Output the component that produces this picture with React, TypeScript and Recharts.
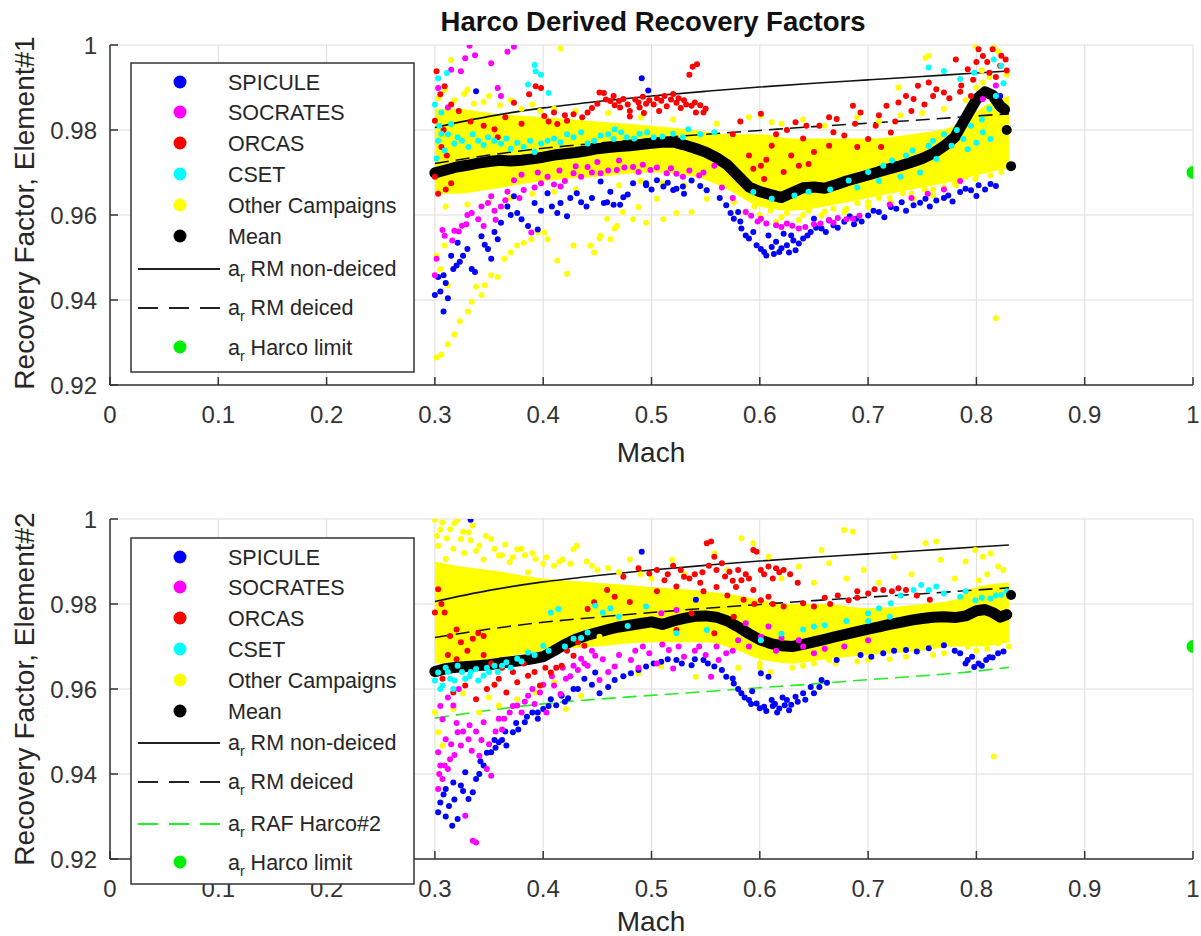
import { ComposedChart, Area, Scatter, Line, XAxis, YAxis, CartesianGrid } from 'recharts'

type Pt = [number, number]
type BandRow = [number, number, number]

const FONT = '"Liberation Sans", Arial, Helvetica, sans-serif'
const INK = '#262626'

const machTicks = [0, 0.1, 0.2, 0.3, 0.4, 0.5, 0.6, 0.7, 0.8, 0.9, 1]
const factorTicks = [0.92, 0.94, 0.96, 0.98, 1]

const campaignColors = {
  spicule: '#0000ff',
  socrates: '#ff00ff',
  orcas: '#ff0000',
  cset: '#00ffff',
  other: '#ffff00',
}

// reference curves, the same on both elements
const rmNonDeiced: Pt[] = [
  [0.3, 0.9806], [0.35, 0.9832], [0.4, 0.9852], [0.45, 0.9867], [0.5, 0.988], [0.55, 0.9891],
  [0.6, 0.9901], [0.65, 0.991], [0.7, 0.9918], [0.75, 0.9926], [0.8, 0.9934], [0.83, 0.9939],
]
const rmDeiced: Pt[] = [
  [0.3, 0.9721], [0.35, 0.9741], [0.4, 0.9757], [0.45, 0.9769], [0.5, 0.978], [0.55, 0.979],
  [0.6, 0.9799], [0.65, 0.9808], [0.7, 0.9816], [0.75, 0.9824], [0.8, 0.9833], [0.83, 0.9838],
]
const rafHarco2: Pt[] = [
  [0.3, 0.9531], [0.35, 0.955], [0.4, 0.9565], [0.45, 0.9576], [0.5, 0.9585], [0.55, 0.9594],
  [0.6, 0.9603], [0.65, 0.9612], [0.7, 0.9622], [0.75, 0.9631], [0.8, 0.9642], [0.83, 0.9651],
]
const harcoLimit: Pt[] = [[1, 0.97]]

// ---- Element#1 ----
// solid core of the "other campaigns" cloud: [mach, low, high]
const otherCore1: BandRow[] = [
  [0.3, 0.965, 0.985], [0.32, 0.965, 0.985], [0.35, 0.966, 0.984], [0.4, 0.968, 0.983],
  [0.45, 0.969, 0.982], [0.5, 0.97, 0.981], [0.54, 0.969, 0.98], [0.57, 0.966, 0.979],
  [0.6, 0.962, 0.979], [0.63, 0.961, 0.978], [0.66, 0.962, 0.978], [0.7, 0.964, 0.978],
  [0.74, 0.966, 0.979], [0.78, 0.968, 0.981], [0.81, 0.97, 0.986], [0.83, 0.971, 0.988],
]
const other1: Pt[] = [
  [0.3015, 0.9265], [0.306, 0.9272], [0.312, 0.9296], [0.318, 0.9319], [0.323, 0.935], [0.3305, 0.9373],
  [0.334, 0.9396], [0.343, 0.9412], [0.346, 0.9435], [0.352, 0.9458], [0.358, 0.9454], [0.338, 0.9431],
  [0.312, 0.9435], [0.305, 0.9473], [0.3015, 0.9504], [0.309, 0.9528], [0.364, 0.9497], [0.37, 0.9512],
  [0.376, 0.9528], [0.382, 0.9535], [0.389, 0.9543], [0.395, 0.9559], [0.401, 0.9559], [0.413, 0.9493],
  [0.422, 0.9462], [0.404, 0.9543], [0.428, 0.9528], [0.4435, 0.9528], [0.447, 0.9512], [0.453, 0.9551],
  [0.462, 0.9543], [0.468, 0.9574], [0.483, 0.959], [0.495, 0.9582], [0.511, 0.959], [0.523, 0.9605],
  [0.416, 0.9992], [0.459, 0.9591], [0.466, 0.9568], [0.4735, 0.9607], [0.452, 0.9545], [0.488, 0.9619],
  [0.505, 0.9638], [0.537, 0.9607], [0.551, 0.9638], [0.569, 0.967], [0.576, 0.963], [0.587, 0.9607],
  [0.601, 0.9591], [0.615, 0.9584], [0.636, 0.9588], [0.657, 0.9599], [0.678, 0.9607], [0.7, 0.9619],
  [0.721, 0.963], [0.742, 0.9638], [0.76, 0.9646], [0.781, 0.967], [0.799, 0.9685], [0.813, 0.9693],
  [0.823, 0.9701], [0.829, 0.9713], [0.601, 0.9834], [0.611, 0.9818], [0.728, 0.99], [0.753, 0.997],
  [0.756, 0.9975], [0.799, 0.9998], [0.816, 0.9998], [0.822, 0.9951], [0.806, 0.9912], [0.818, 0.9357],
  [0.823, 0.9795], [0.826, 0.976], [0.303, 0.9875], [0.309, 0.9895], [0.318, 0.987], [0.327, 0.9885],
  [0.336, 0.9862], [0.345, 0.9866], [0.315, 0.9965], [0.36, 0.9858], [0.38, 0.985], [0.397, 0.9845],
  [0.595, 0.962], [0.61, 0.961], [0.625, 0.9605], [0.645, 0.961], [0.668, 0.9615], [0.69, 0.9628],
  [0.71, 0.964], [0.732, 0.9652], [0.752, 0.966], [0.77, 0.9665], [0.79, 0.969], [0.808, 0.9705],
  [0.805, 0.994], [0.812, 0.9925], [0.82, 0.9985], [0.828, 0.993],
  [0.33, 0.9895], [0.35, 0.988], [0.37, 0.987], [0.39, 0.986], [0.41, 0.985], [0.43, 0.9845],
  [0.46, 0.984], [0.49, 0.983], [0.52, 0.9825], [0.56, 0.9815], [0.59, 0.983], [0.62, 0.9815],
  [0.64, 0.9825], [0.66, 0.981], [0.69, 0.983], [0.71, 0.982], [0.73, 0.9835], [0.75, 0.984],
  [0.77, 0.985], [0.79, 0.987], [0.8, 0.99], [0.6, 0.96], [0.62, 0.9595], [0.64, 0.96],
  [0.66, 0.9608], [0.68, 0.9615], [0.7, 0.963], [0.72, 0.964], [0.74, 0.965], [0.76, 0.966],
  [0.78, 0.9675], [0.8, 0.9695], [0.55, 0.966], [0.53, 0.967], [0.51, 0.9675], [0.49, 0.968],
  [0.47, 0.967], [0.43, 0.966], [0.41, 0.9655], [0.39, 0.965], [0.37, 0.964], [0.35, 0.963],
  [0.33, 0.9625], [0.31, 0.962],
]
const spicule1: Pt[] = [
  [0.3, 0.9412], [0.308, 0.9373], [0.312, 0.9404], [0.303, 0.9454], [0.308, 0.9458], [0.317, 0.9473],
  [0.32, 0.9481], [0.315, 0.9504], [0.326, 0.9504], [0.321, 0.9535], [0.334, 0.9473], [0.337, 0.9466],
  [0.338, 0.9891], [0.343, 0.955], [0.349, 0.952], [0.352, 0.9497], [0.358, 0.9543], [0.361, 0.9582],
  [0.367, 0.962], [0.373, 0.9644], [0.376, 0.9605], [0.386, 0.9574], [0.392, 0.9628], [0.395, 0.9566],
  [0.404, 0.9651], [0.413, 0.9605], [0.416, 0.9628], [0.422, 0.9597], [0.431, 0.9651], [0.44, 0.962],
  [0.453, 0.9679], [0.456, 0.9628], [0.465, 0.9624], [0.471, 0.9624], [0.483, 0.9675], [0.491, 0.9922],
  [0.497, 0.9893], [0.495, 0.9675], [0.505, 0.9682], [0.511, 0.9667], [0.52, 0.9659], [0.529, 0.9667],
  [0.459, 0.963], [0.474, 0.9642], [0.495, 0.967], [0.523, 0.9662], [0.537, 0.9681], [0.551, 0.9658],
  [0.569, 0.9623], [0.576, 0.9591], [0.583, 0.9568], [0.59, 0.9545], [0.597, 0.9529], [0.604, 0.9513],
  [0.611, 0.9525], [0.618, 0.9513], [0.625, 0.9529], [0.633, 0.9517], [0.64, 0.9545], [0.647, 0.956],
  [0.657, 0.9568], [0.668, 0.9576], [0.678, 0.9584], [0.689, 0.9591], [0.7, 0.9599], [0.71, 0.9607],
  [0.721, 0.9619], [0.731, 0.963], [0.742, 0.9623], [0.753, 0.9638], [0.763, 0.9634], [0.774, 0.9646],
  [0.785, 0.9654], [0.795, 0.9658], [0.802, 0.967], [0.813, 0.9673], [0.58, 0.9607], [0.594, 0.956],
  [0.608, 0.9552], [0.629, 0.9552], [0.65, 0.9591], [0.615, 0.9537], [0.622, 0.9556], [0.636, 0.9533],
  [0.664, 0.9587], [0.683, 0.9597], [0.705, 0.961], [0.726, 0.9615], [0.748, 0.9629], [0.77, 0.964],
  [0.79, 0.9662], [0.822, 0.988],
  [0.587, 0.9552], [0.601, 0.952], [0.606, 0.9505], [0.613, 0.9508], [0.62, 0.9522], [0.627, 0.9512],
  [0.631, 0.954], [0.644, 0.9552], [0.652, 0.957], [0.661, 0.956], [0.672, 0.957], [0.687, 0.9578],
  [0.694, 0.9585], [0.715, 0.9595], [0.735, 0.961], [0.757, 0.962], [0.778, 0.9632], [0.8, 0.9645],
  [0.808, 0.966], [0.818, 0.9668], [0.582, 0.9585], [0.573, 0.9605], [0.563, 0.964], [0.545, 0.9668],
  [0.53, 0.965], [0.515, 0.9676], [0.5, 0.966], [0.478, 0.9648], [0.462, 0.9655], [0.445, 0.964],
  [0.435, 0.963], [0.425, 0.964], [0.408, 0.962], [0.398, 0.961], [0.38, 0.959], [0.37, 0.96],
  [0.355, 0.956], [0.346, 0.953], [0.33, 0.952], [0.323, 0.949], [0.31, 0.944], [0.305, 0.942],
]
const socrates1: Pt[] = [
  [0.3015, 0.9497], [0.3, 0.9458], [0.309, 0.9551], [0.318, 0.9563], [0.329, 0.9578], [0.334, 0.9605],
  [0.34, 0.959], [0.349, 0.9628], [0.352, 0.9644], [0.361, 0.962], [0.367, 0.9655], [0.373, 0.9682],
  [0.382, 0.9659], [0.389, 0.9559], [0.398, 0.9675], [0.404, 0.969], [0.416, 0.9667], [0.428, 0.9698],
  [0.441, 0.9713], [0.453, 0.9698], [0.468, 0.9706], [0.483, 0.9713], [0.499, 0.9706], [0.514, 0.9698],
  [0.529, 0.969], [0.332, 0.9998], [0.337, 0.9976], [0.328, 0.9969], [0.352, 0.9957], [0.367, 0.9984],
  [0.373, 0.9996], [0.303, 0.9899], [0.315, 0.9942], [0.324, 0.9938], [0.358, 0.9899], [0.361, 0.988],
  [0.312, 0.9853], [0.488, 0.9701], [0.523, 0.9697], [0.544, 0.9693], [0.558, 0.9716], [0.587, 0.9607],
  [0.601, 0.9591], [0.615, 0.9576], [0.636, 0.9568], [0.664, 0.9588], [0.686, 0.9591], [0.625, 0.958],
  [0.65, 0.9578], [0.672, 0.9593], [0.806, 0.9873], [0.818, 0.9905], [0.322, 0.9561], [0.345, 0.9574],
  [0.356, 0.9589],
  [0.592, 0.9598], [0.598, 0.9585], [0.606, 0.958], [0.62, 0.9572], [0.63, 0.9575], [0.642, 0.9572],
  [0.656, 0.958], [0.668, 0.9582], [0.68, 0.959], [0.692, 0.9598], [0.575, 0.964], [0.565, 0.9665],
  [0.548, 0.97], [0.535, 0.9705], [0.518, 0.971], [0.505, 0.9712], [0.492, 0.9718], [0.475, 0.9712],
  [0.46, 0.9705], [0.445, 0.97], [0.435, 0.969], [0.42, 0.968], [0.41, 0.9672], [0.392, 0.9665],
  [0.378, 0.964], [0.365, 0.9635], [0.355, 0.961], [0.343, 0.962], [0.33, 0.96], [0.325, 0.9575],
  [0.316, 0.954], [0.307, 0.9565], [0.38, 0.9695], [0.395, 0.97], [0.415, 0.9705], [0.43, 0.9715],
  [0.45, 0.9725], [0.47, 0.9728], [0.785, 0.968], [0.77, 0.966], [0.755, 0.965], [0.74, 0.964],
  [0.72, 0.9625],
]
const orcas1: Pt[] = [
  [0.3015, 0.9938], [0.3, 0.9822], [0.305, 0.9884], [0.309, 0.9903], [0.306, 0.976], [0.311, 0.974],
  [0.3, 0.969], [0.315, 0.9675], [0.355, 0.9802], [0.358, 0.9783], [0.387, 0.9884], [0.393, 0.9903],
  [0.398, 0.9899], [0.373, 0.9864], [0.401, 0.9833], [0.41, 0.9841], [0.413, 0.9814], [0.422, 0.9822],
  [0.428, 0.9837], [0.441, 0.9841], [0.456, 0.9887], [0.462, 0.9868], [0.471, 0.9853], [0.48, 0.9845],
  [0.489, 0.9853], [0.502, 0.986], [0.514, 0.9856], [0.523, 0.9864], [0.532, 0.986], [0.538, 0.9949],
  [0.535, 0.993], [0.541, 0.9841], [0.542, 0.9955], [0.452, 0.9888], [0.474, 0.9873], [0.488, 0.9865],
  [0.509, 0.9869], [0.537, 0.9857], [0.548, 0.9841], [0.601, 0.9838], [0.594, 0.9709], [0.604, 0.9685],
  [0.633, 0.9818], [0.643, 0.981], [0.664, 0.983], [0.671, 0.9826], [0.686, 0.9857], [0.693, 0.9841],
  [0.717, 0.9857], [0.728, 0.9865], [0.735, 0.988], [0.742, 0.9873], [0.746, 0.9904], [0.756, 0.9912],
  [0.763, 0.9896], [0.77, 0.9888], [0.781, 0.9966], [0.792, 0.9943], [0.802, 0.999], [0.806, 0.9974],
  [0.827, 0.9966], [0.822, 0.9951], [0.611, 0.9763], [0.629, 0.974], [0.622, 0.9701], [0.636, 0.9716],
  [0.65, 0.9748], [0.664, 0.9763], [0.678, 0.9787], [0.7, 0.9779], [0.707, 0.981], [0.721, 0.9794],
  [0.601, 0.9716], [0.59, 0.974], [0.812, 0.9935], [0.818, 0.9925], [0.786, 0.9905], [0.797, 0.9918],
  [0.8, 0.996], [0.495, 0.9862], [0.518, 0.9872], [0.527, 0.9852], [0.466, 0.9858],
  [0.445, 0.9852], [0.45, 0.9862], [0.458, 0.9872], [0.465, 0.988], [0.47, 0.9868], [0.478, 0.986],
  [0.485, 0.9872], [0.492, 0.9878], [0.498, 0.987], [0.505, 0.9875], [0.512, 0.988], [0.52, 0.9885],
  [0.525, 0.9875], [0.53, 0.987], [0.54, 0.9865], [0.545, 0.9858], [0.55, 0.985], [0.507, 0.9845],
  [0.493, 0.984], [0.48, 0.9832], [0.436, 0.983], [0.42, 0.9835], [0.405, 0.982], [0.38, 0.9815],
  [0.365, 0.983], [0.345, 0.981], [0.333, 0.982], [0.322, 0.9845], [0.315, 0.986], [0.308, 0.98],
  [0.303, 0.965], [0.31, 0.966], [0.615, 0.979], [0.625, 0.98], [0.64, 0.978], [0.655, 0.981],
  [0.668, 0.9795], [0.688, 0.9815], [0.71, 0.9835], [0.725, 0.982], [0.74, 0.9845], [0.752, 0.986],
  [0.76, 0.988], [0.775, 0.9875], [0.785, 0.989], [0.795, 0.988], [0.81, 0.996], [0.815, 0.999],
  [0.823, 0.9975], [0.828, 0.994], [0.582, 0.982], [0.575, 0.979], [0.606, 0.973], [0.645, 0.972],
  [0.69, 0.976], [0.712, 0.976],
]
const cset1: Pt[] = [
  [0.303, 0.9922], [0.311, 0.9934], [0.3, 0.986], [0.306, 0.9841], [0.315, 0.9814], [0.303, 0.9775],
  [0.309, 0.9752], [0.306, 0.9791], [0.321, 0.9783], [0.331, 0.976], [0.34, 0.9775], [0.349, 0.9783],
  [0.361, 0.9768], [0.37, 0.9756], [0.382, 0.976], [0.386, 0.9907], [0.392, 0.9953], [0.393, 0.9938],
  [0.398, 0.993], [0.405, 0.9887], [0.392, 0.9748], [0.398, 0.9768], [0.404, 0.9775], [0.416, 0.9771],
  [0.428, 0.9783], [0.441, 0.9768], [0.453, 0.9787], [0.465, 0.9779], [0.477, 0.9783], [0.489, 0.9791],
  [0.502, 0.9783], [0.52, 0.9791], [0.529, 0.9783], [0.3015, 0.9733], [0.466, 0.9802], [0.534, 0.9802],
  [0.558, 0.9795], [0.594, 0.9654], [0.611, 0.9638], [0.632, 0.9646], [0.682, 0.9681], [0.7, 0.9701],
  [0.714, 0.9716], [0.735, 0.974], [0.756, 0.9763], [0.763, 0.9732], [0.777, 0.9763], [0.788, 0.9779],
  [0.792, 0.9755], [0.806, 0.9795], [0.813, 0.9779], [0.756, 0.9947], [0.77, 0.9939], [0.816, 0.9966],
  [0.823, 0.9951], [0.741, 0.9752], [0.722, 0.9728], [0.8, 0.977],
  [0.304, 0.981], [0.312, 0.979], [0.318, 0.9768], [0.325, 0.9775], [0.335, 0.979], [0.345, 0.9765],
  [0.355, 0.9775], [0.366, 0.978], [0.376, 0.977], [0.388, 0.9775], [0.41, 0.978], [0.422, 0.979],
  [0.435, 0.9795], [0.447, 0.9775], [0.46, 0.979], [0.472, 0.9795], [0.484, 0.978], [0.496, 0.9795],
  [0.51, 0.9785], [0.545, 0.979], [0.76, 0.9775], [0.77, 0.979], [0.782, 0.98], [0.795, 0.981],
  [0.805, 0.9825], [0.812, 0.985], [0.818, 0.988], [0.825, 0.991], [0.785, 0.992], [0.798, 0.9935],
  [0.748, 0.97], [0.73, 0.969], [0.71, 0.968], [0.69, 0.9665], [0.665, 0.966], [0.645, 0.9655],
]
const mean1: Pt[] = [
  [0.3, 0.9699], [0.31, 0.9706], [0.32, 0.9713], [0.33, 0.9717], [0.34, 0.9722], [0.35, 0.9726],
  [0.36, 0.9729], [0.37, 0.9727], [0.38, 0.9729], [0.39, 0.9732], [0.4, 0.9736], [0.41, 0.9741],
  [0.42, 0.9744], [0.43, 0.9747], [0.44, 0.9751], [0.45, 0.9756], [0.46, 0.9759], [0.47, 0.9761],
  [0.48, 0.9763], [0.49, 0.9766], [0.5, 0.9769], [0.51, 0.9771], [0.52, 0.9772], [0.53, 0.9765],
  [0.54, 0.9757], [0.55, 0.9748], [0.56, 0.9735], [0.57, 0.9718], [0.58, 0.9692], [0.59, 0.9666],
  [0.6, 0.9655], [0.61, 0.9648], [0.62, 0.9641], [0.63, 0.9653], [0.64, 0.9664], [0.65, 0.9666],
  [0.66, 0.9663], [0.67, 0.9671], [0.68, 0.968], [0.69, 0.9687], [0.7, 0.9694], [0.71, 0.9702],
  [0.72, 0.9709], [0.73, 0.9716], [0.74, 0.9724], [0.75, 0.9733], [0.76, 0.9745], [0.77, 0.9762],
  [0.78, 0.9783], [0.79, 0.9828], [0.8, 0.9872], [0.808, 0.989], [0.815, 0.9882], [0.822, 0.9856],
  [0.826, 0.9848],
]
const meanTail1: Pt[] = [[0.828, 0.98], [0.832, 0.9715]]

// ---- Element#2 ----
const otherCore2: BandRow[] = [
  [0.3, 0.966, 0.99], [0.32, 0.966, 0.989], [0.35, 0.967, 0.988], [0.4, 0.969, 0.986],
  [0.45, 0.97, 0.985], [0.5, 0.971, 0.984], [0.55, 0.971, 0.983], [0.58, 0.969, 0.982],
  [0.6, 0.967, 0.981], [0.63, 0.966, 0.98], [0.66, 0.967, 0.98], [0.7, 0.968, 0.979],
  [0.75, 0.969, 0.98], [0.78, 0.97, 0.981], [0.8, 0.97, 0.984], [0.83, 0.971, 0.985],
]
const other2: Pt[] = [
  [0.3, 0.9998], [0.307, 0.9992], [0.314, 0.9976], [0.321, 0.9998], [0.324, 0.9953], [0.331, 0.9969],
  [0.341, 0.9937], [0.303, 0.9937], [0.31, 0.9906], [0.352, 0.9953], [0.359, 0.9914], [0.369, 0.9898],
  [0.376, 0.9929], [0.393, 0.9906], [0.41, 0.989], [0.428, 0.9929], [0.431, 0.9937], [0.386, 0.9875],
  [0.317, 0.993], [0.327, 0.992], [0.335, 0.9985], [0.345, 0.9905], [0.365, 0.994], [0.383, 0.9915],
  [0.4, 0.9895], [0.418, 0.9905], [0.445, 0.989], [0.46, 0.9885], [0.303, 0.9498], [0.307, 0.9467],
  [0.3, 0.9545], [0.317, 0.9553], [0.341, 0.9545], [0.359, 0.9561], [0.376, 0.9576], [0.393, 0.9592],
  [0.41, 0.9616], [0.421, 0.9553], [0.435, 0.9584], [0.326, 0.959], [0.35, 0.958], [0.452, 0.9723],
  [0.519, 0.9904], [0.558, 0.9919], [0.583, 0.9955], [0.594, 0.9943], [0.608, 0.9911], [0.636, 0.9888],
  [0.657, 0.9927], [0.678, 0.9974], [0.686, 0.997], [0.664, 0.9896], [0.696, 0.988], [0.724, 0.9911],
  [0.753, 0.9943], [0.763, 0.9947], [0.767, 0.9904], [0.799, 0.9927], [0.806, 0.9911], [0.813, 0.9919],
  [0.82, 0.9888], [0.802, 0.9856], [0.816, 0.9441], [0.488, 0.9637], [0.509, 0.9653], [0.541, 0.9629],
  [0.664, 0.9668], [0.7, 0.9668], [0.735, 0.9676], [0.77, 0.9684], [0.792, 0.97], [0.82, 0.9707],
  [0.62, 0.967], [0.64, 0.9655], [0.58, 0.965], [0.6, 0.966], [0.75, 0.97], [0.81, 0.9695],
  [0.302, 0.996], [0.305, 0.9975], [0.311, 0.9955], [0.318, 0.999], [0.326, 0.997], [0.333, 0.995],
  [0.338, 0.9925], [0.347, 0.996], [0.355, 0.993], [0.362, 0.9915], [0.372, 0.991], [0.38, 0.993],
  [0.39, 0.992], [0.403, 0.991], [0.415, 0.99], [0.425, 0.9895], [0.44, 0.99], [0.45, 0.988],
  [0.47, 0.9875], [0.48, 0.9905], [0.49, 0.987], [0.5, 0.986], [0.53, 0.987], [0.57, 0.988],
  [0.62, 0.986], [0.65, 0.985], [0.68, 0.986], [0.71, 0.985], [0.74, 0.987], [0.78, 0.986],
  [0.79, 0.99], [0.81, 0.987], [0.825, 0.988], [0.6, 0.965], [0.61, 0.964], [0.63, 0.965],
  [0.65, 0.966], [0.67, 0.966], [0.69, 0.9665], [0.72, 0.967], [0.76, 0.968], [0.78, 0.969],
  [0.8, 0.969], [0.83, 0.97],
]
const spicule2: Pt[] = [
  [0.303, 0.931], [0.305, 0.9333], [0.31, 0.9365], [0.317, 0.938], [0.324, 0.9373], [0.328, 0.9404],
  [0.335, 0.9357], [0.316, 0.9278], [0.321, 0.9294], [0.331, 0.9341], [0.338, 0.9388], [0.345, 0.942],
  [0.352, 0.9451], [0.359, 0.9475], [0.366, 0.9467], [0.372, 0.9498], [0.383, 0.9522], [0.39, 0.9545],
  [0.4, 0.9553], [0.407, 0.9576], [0.417, 0.9584], [0.428, 0.96], [0.438, 0.9624], [0.448, 0.9639],
  [0.333, 0.9998], [0.341, 0.94], [0.356, 0.9462], [0.362, 0.948], [0.377, 0.9505], [0.395, 0.953],
  [0.412, 0.9562], [0.423, 0.9578], [0.308, 0.9352], [0.313, 0.9325], [0.491, 0.9923], [0.541, 0.981],
  [0.452, 0.959], [0.466, 0.9621], [0.481, 0.9637], [0.495, 0.9653], [0.509, 0.9664], [0.523, 0.9668],
  [0.537, 0.9656], [0.548, 0.9668], [0.558, 0.9653], [0.569, 0.9629], [0.576, 0.9613], [0.583, 0.959],
  [0.59, 0.9574], [0.597, 0.9566], [0.604, 0.9558], [0.611, 0.9574], [0.618, 0.9554], [0.625, 0.9574],
  [0.633, 0.9582], [0.64, 0.959], [0.647, 0.9605], [0.657, 0.9621], [0.601, 0.9637], [0.608, 0.9629],
  [0.614, 0.9565], [0.621, 0.958], [0.629, 0.9563], [0.593, 0.9595], [0.671, 0.9668], [0.693, 0.968],
  [0.714, 0.9684], [0.735, 0.9692], [0.756, 0.9696], [0.77, 0.9703], [0.785, 0.9684], [0.792, 0.9668],
  [0.802, 0.966], [0.809, 0.9668], [0.82, 0.9684], [0.703, 0.9676], [0.724, 0.969], [0.745, 0.9688],
  [0.796, 0.9676], [0.815, 0.9674], [0.825, 0.9688],
  [0.58, 0.96], [0.586, 0.958], [0.592, 0.9565], [0.6, 0.9555], [0.606, 0.9548], [0.612, 0.956],
  [0.616, 0.9545], [0.623, 0.9562], [0.627, 0.955], [0.635, 0.957], [0.642, 0.9575], [0.65, 0.959],
  [0.655, 0.9605], [0.662, 0.9615], [0.575, 0.9625], [0.565, 0.9645], [0.552, 0.966], [0.54, 0.967],
  [0.528, 0.966], [0.515, 0.967], [0.502, 0.966], [0.488, 0.9645], [0.474, 0.963], [0.46, 0.9605],
  [0.445, 0.961], [0.432, 0.96], [0.42, 0.957], [0.405, 0.956], [0.395, 0.9545], [0.385, 0.9535],
  [0.375, 0.952], [0.365, 0.95], [0.355, 0.948], [0.348, 0.945], [0.342, 0.943], [0.318, 0.934],
  [0.326, 0.936], [0.31, 0.93], [0.78, 0.969], [0.79, 0.966], [0.798, 0.9652], [0.805, 0.9655],
  [0.812, 0.9675],
]
const socrates2: Pt[] = [
  [0.303, 0.9365], [0.307, 0.9388], [0.305, 0.942], [0.303, 0.9451], [0.31, 0.9482], [0.314, 0.9435],
  [0.321, 0.9498], [0.324, 0.9467], [0.331, 0.9482], [0.328, 0.9302], [0.335, 0.9243], [0.338, 0.9239],
  [0.341, 0.9443], [0.348, 0.9412], [0.352, 0.9396], [0.345, 0.9522], [0.359, 0.953], [0.369, 0.9545],
  [0.376, 0.9561], [0.386, 0.9584], [0.397, 0.9592], [0.403, 0.9545], [0.41, 0.9608], [0.421, 0.9624],
  [0.428, 0.9655], [0.435, 0.9671], [0.441, 0.9655], [0.448, 0.9678], [0.307, 0.9529], [0.317, 0.9561],
  [0.312, 0.9412], [0.318, 0.9445], [0.334, 0.9455], [0.362, 0.9505], [0.38, 0.9545], [0.392, 0.9565],
  [0.416, 0.9588], [0.452, 0.9621], [0.466, 0.9653], [0.481, 0.9668], [0.498, 0.9684], [0.516, 0.9692],
  [0.53, 0.9676], [0.544, 0.97], [0.555, 0.9629], [0.569, 0.9684], [0.58, 0.9715], [0.601, 0.9723],
  [0.587, 0.9755], [0.608, 0.9747], [0.636, 0.9715], [0.65, 0.9684], [0.678, 0.97], [0.7, 0.9715],
  [0.509, 0.9778], [0.523, 0.9786], [0.46, 0.964], [0.488, 0.965], [0.505, 0.966], [0.52, 0.9648],
  [0.562, 0.9668], [0.615, 0.969], [0.66, 0.9695],
  [0.304, 0.94], [0.309, 0.942], [0.315, 0.947], [0.32, 0.952], [0.326, 0.95], [0.332, 0.9515],
  [0.338, 0.95], [0.343, 0.948], [0.35, 0.947], [0.356, 0.95], [0.364, 0.953], [0.372, 0.956],
  [0.383, 0.957], [0.39, 0.96], [0.4, 0.961], [0.408, 0.963], [0.418, 0.965], [0.425, 0.963],
  [0.432, 0.9645], [0.438, 0.966], [0.445, 0.969], [0.455, 0.967], [0.47, 0.968], [0.485, 0.969],
  [0.492, 0.97], [0.51, 0.9705], [0.525, 0.97], [0.54, 0.969], [0.55, 0.968], [0.56, 0.97],
  [0.575, 0.969], [0.59, 0.97], [0.62, 0.972], [0.64, 0.97], [0.305, 0.956], [0.312, 0.958],
  [0.322, 0.96],
]
const orcas2: Pt[] = [
  [0.303, 0.9835], [0.309, 0.978], [0.314, 0.9725], [0.324, 0.971], [0.335, 0.9718], [0.345, 0.9725],
  [0.307, 0.9624], [0.317, 0.9592], [0.328, 0.9608], [0.338, 0.9576], [0.348, 0.96], [0.359, 0.9624],
  [0.366, 0.9592], [0.376, 0.9616], [0.386, 0.9631], [0.397, 0.9608], [0.407, 0.9639], [0.417, 0.9655],
  [0.428, 0.9678], [0.438, 0.9702], [0.447, 0.9804], [0.441, 0.9788], [0.32, 0.974], [0.34, 0.9732],
  [0.355, 0.961], [0.392, 0.964], [0.412, 0.965], [0.488, 0.9884], [0.498, 0.9872], [0.512, 0.9856],
  [0.523, 0.9841], [0.53, 0.9864], [0.551, 0.9943], [0.555, 0.9947], [0.558, 0.9911], [0.565, 0.9896],
  [0.572, 0.9876], [0.583, 0.9856], [0.594, 0.9927], [0.597, 0.9923], [0.601, 0.988], [0.608, 0.9888],
  [0.615, 0.9884], [0.622, 0.988], [0.594, 0.9833], [0.601, 0.9809], [0.608, 0.9817], [0.622, 0.9794],
  [0.64, 0.9802], [0.65, 0.9794], [0.682, 0.9809], [0.7, 0.9825], [0.714, 0.9833], [0.728, 0.9837],
  [0.735, 0.9833], [0.466, 0.9817], [0.474, 0.9864], [0.459, 0.9833], [0.523, 0.9739], [0.537, 0.9778],
  [0.558, 0.9731], [0.576, 0.977], [0.54, 0.987], [0.545, 0.985], [0.578, 0.984], [0.587, 0.987],
  [0.505, 0.983], [0.48, 0.9805], [0.722, 0.983], [0.69, 0.9815], [0.665, 0.98],
  [0.505, 0.988], [0.515, 0.987], [0.52, 0.989], [0.527, 0.988], [0.535, 0.986], [0.547, 0.9875],
  [0.553, 0.989], [0.56, 0.988], [0.568, 0.9865], [0.575, 0.9855], [0.58, 0.988], [0.59, 0.986],
  [0.604, 0.987], [0.612, 0.986], [0.618, 0.9875], [0.628, 0.987], [0.635, 0.985], [0.56, 0.984],
  [0.548, 0.983], [0.57, 0.982], [0.585, 0.981], [0.595, 0.98], [0.612, 0.98], [0.66, 0.9815],
  [0.672, 0.982], [0.69, 0.983], [0.706, 0.9835], [0.745, 0.982], [0.757, 0.981], [0.312, 0.968],
  [0.32, 0.967], [0.33, 0.969], [0.345, 0.968], [0.352, 0.966], [0.362, 0.965], [0.372, 0.964],
  [0.382, 0.966], [0.402, 0.965], [0.422, 0.969], [0.432, 0.971], [0.3, 0.978], [0.306, 0.98],
]
const cset2: Pt[] = [
  [0.303, 0.9639], [0.307, 0.9608], [0.314, 0.9624], [0.321, 0.9655], [0.328, 0.9624], [0.338, 0.9647],
  [0.345, 0.9631], [0.355, 0.9655], [0.366, 0.9663], [0.376, 0.9671], [0.386, 0.9686], [0.4, 0.9702],
  [0.407, 0.978], [0.414, 0.9788], [0.428, 0.9718], [0.441, 0.9733], [0.448, 0.9796], [0.31, 0.965],
  [0.317, 0.96], [0.333, 0.964], [0.35, 0.964], [0.495, 0.9794], [0.523, 0.9731], [0.551, 0.9739],
  [0.601, 0.9715], [0.65, 0.9747], [0.7, 0.9778], [0.721, 0.9802], [0.742, 0.9833], [0.756, 0.9833],
  [0.77, 0.9825], [0.785, 0.9817], [0.799, 0.9809], [0.813, 0.9813], [0.823, 0.9821], [0.763, 0.9841],
  [0.749, 0.9845], [0.73, 0.982], [0.71, 0.979], [0.68, 0.976], [0.66, 0.975], [0.47, 0.977],
  [0.478, 0.9748],
  [0.3, 0.962], [0.305, 0.96], [0.312, 0.964], [0.318, 0.962], [0.325, 0.964], [0.332, 0.963],
  [0.34, 0.962], [0.348, 0.965], [0.358, 0.964], [0.362, 0.9655], [0.37, 0.965], [0.38, 0.9665],
  [0.392, 0.968], [0.405, 0.969], [0.42, 0.97], [0.435, 0.972], [0.455, 0.978], [0.462, 0.979],
  [0.79, 0.983], [0.805, 0.9815], [0.818, 0.982], [0.828, 0.983], [0.72, 0.977], [0.7, 0.976],
  [0.64, 0.974], [0.62, 0.973],
]
const mean2: Pt[] = [
  [0.3, 0.9641], [0.31, 0.9648], [0.32, 0.9651], [0.33, 0.9653], [0.34, 0.9655], [0.35, 0.9657],
  [0.36, 0.9661], [0.37, 0.9664], [0.38, 0.9667], [0.39, 0.9671], [0.4, 0.9676], [0.41, 0.969],
  [0.42, 0.9705], [0.43, 0.9717], [0.44, 0.9726], [0.45, 0.9733], [0.46, 0.974], [0.47, 0.9746],
  [0.48, 0.975], [0.49, 0.9754], [0.5, 0.9758], [0.51, 0.9752], [0.52, 0.976], [0.53, 0.9766],
  [0.54, 0.9771], [0.55, 0.9772], [0.56, 0.9769], [0.57, 0.976], [0.58, 0.9746], [0.59, 0.973],
  [0.6, 0.9716], [0.61, 0.9707], [0.62, 0.9702], [0.63, 0.97], [0.64, 0.9705], [0.65, 0.9711],
  [0.66, 0.9717], [0.67, 0.9723], [0.68, 0.9729], [0.69, 0.9735], [0.7, 0.9741], [0.71, 0.9746],
  [0.72, 0.9752], [0.73, 0.9757], [0.74, 0.9762], [0.75, 0.9766], [0.76, 0.9769], [0.77, 0.977],
  [0.78, 0.9768], [0.79, 0.9772], [0.8, 0.9784], [0.808, 0.9787], [0.815, 0.978], [0.822, 0.9769],
  [0.828, 0.9775],
]
const meanTail2: Pt[] = [[0.832, 0.9821]]

const toXY = (pts: Pt[]) => pts.map(([x, y]) => ({ x, y }))
const toBand = (rows: BandRow[]) => rows.map(([x, lo, hi]) => ({ x, band: [lo, hi] }))

const dot = (r: number, fill: string) => (p: any) => <circle cx={p.cx} cy={p.cy} r={r} fill={fill} />

const axisStroke = { stroke: '#333', strokeWidth: 1.5 }
const tickFont = { fill: '#333', fontSize: 24, fontFamily: FONT }

interface PanelProps {
  top: number
  core: BandRow[]
  other: Pt[]
  spicule: Pt[]
  socrates: Pt[]
  orcas: Pt[]
  cset: Pt[]
  mean: Pt[]
  meanTail: Pt[]
  withRaf?: boolean
}

function Panel({ top, core, other, spicule, socrates, orcas, cset, mean, meanTail, withRaf }: PanelProps) {
  const r = 3
  return (
    <div style={{ position: 'absolute', left: 0, top }}>
      <ComposedChart width={1201} height={470} data={toBand(core)} margin={{ top: 45, right: 8, bottom: 45, left: 30 }}>
        <CartesianGrid stroke="#dedede" strokeWidth={1} />
        <XAxis
          dataKey="x"
          type="number"
          domain={[0, 1]}
          ticks={machTicks}
          allowDataOverflow
          height={40}
          tickSize={-8}
          tickMargin={29}
          axisLine={axisStroke}
          tickLine={axisStroke}
          tick={tickFont}
          interval={0}
        />
        <XAxis xAxisId="top" orientation="top" dataKey="x" type="number" domain={[0, 1]} ticks={machTicks}
          allowDataOverflow height={0} tickSize={-8} axisLine={axisStroke} tickLine={axisStroke} tick={false} interval={0} />
        <YAxis
          dataKey="y"
          type="number"
          domain={[0.92, 1]}
          ticks={factorTicks}
          allowDataOverflow
          width={80}
          tickSize={-8}
          tickMargin={21}
          axisLine={axisStroke}
          tickLine={axisStroke}
          tick={tickFont}
          interval={0}
        />
        <YAxis yAxisId="right" orientation="right" type="number" domain={[0.92, 1]} ticks={factorTicks}
          allowDataOverflow width={0} tickSize={-8} axisLine={axisStroke} tickLine={axisStroke} tick={false} interval={0} />

        <Area dataKey="band" type="monotone" fill={campaignColors.other} fillOpacity={1} stroke="none" isAnimationActive={false} />
        <Scatter data={toXY(other)} dataKey="y" shape={dot(r, campaignColors.other)} isAnimationActive={false} />
        <Scatter data={toXY(spicule)} dataKey="y" shape={dot(r, campaignColors.spicule)} isAnimationActive={false} />
        <Scatter data={toXY(socrates)} dataKey="y" shape={dot(r, campaignColors.socrates)} isAnimationActive={false} />
        <Scatter data={toXY(orcas)} dataKey="y" shape={dot(r, campaignColors.orcas)} isAnimationActive={false} />
        <Scatter data={toXY(cset)} dataKey="y" shape={dot(r, campaignColors.cset)} isAnimationActive={false} />

        <Line data={toXY(rmNonDeiced)} dataKey="y" type="monotone" stroke="#111" strokeWidth={1.6} dot={false} isAnimationActive={false} />
        <Line data={toXY(rmDeiced)} dataKey="y" type="monotone" stroke="#111" strokeWidth={1.6} strokeDasharray="14 7" dot={false} isAnimationActive={false} />
        {withRaf && (
          <Line data={toXY(rafHarco2)} dataKey="y" type="monotone" stroke="#22ee22" strokeWidth={1.6} strokeDasharray="14 7" dot={false} isAnimationActive={false} />
        )}
        <Line data={toXY(mean)} dataKey="y" type="linear" stroke="#000" strokeWidth={11} strokeLinejoin="round" strokeLinecap="round" dot={false} isAnimationActive={false} />
        <Scatter data={toXY(meanTail)} dataKey="y" shape={dot(5, '#000')} isAnimationActive={false} />
        <Scatter data={toXY(harcoLimit)} dataKey="y" shape={dot(6.5, '#00ee00')} isAnimationActive={false} />
      </ComposedChart>
    </div>
  )
}

type Row = { kind: 'dot' | 'solid' | 'dash'; color: string; label: string; sub?: boolean; y: number }

const legendRows1: Row[] = [
  { kind: 'dot', color: campaignColors.spicule, label: 'SPICULE', y: 19 },
  { kind: 'dot', color: campaignColors.socrates, label: 'SOCRATES', y: 49 },
  { kind: 'dot', color: campaignColors.orcas, label: 'ORCAS', y: 80 },
  { kind: 'dot', color: campaignColors.cset, label: 'CSET', y: 111 },
  { kind: 'dot', color: campaignColors.other, label: 'Other Campaigns', y: 142 },
  { kind: 'dot', color: '#000', label: 'Mean', y: 173 },
  { kind: 'solid', color: '#222', label: ' RM non-deiced', sub: true, y: 205 },
  { kind: 'dash', color: '#222', label: ' RM deiced', sub: true, y: 244 },
  { kind: 'dot', color: '#00ee00', label: ' Harco limit', sub: true, y: 284 },
]
const legendRows2: Row[] = [
  ...legendRows1.slice(0, 6),
  { kind: 'solid', color: '#222', label: ' RM non-deiced', sub: true, y: 204 },
  { kind: 'dash', color: '#222', label: ' RM deiced', sub: true, y: 243 },
  { kind: 'dash', color: '#22ee22', label: ' RAF Harco#2', sub: true, y: 285 },
  { kind: 'dot', color: '#00ee00', label: ' Harco limit', sub: true, y: 324 },
]

function LegendBox({ x, y, w, h, rows }: { x: number; y: number; w: number; h: number; rows: Row[] }) {
  return (
    <g transform={`translate(${x},${y})`}>
      <rect x={0} y={0} width={w} height={h} fill="#fff" stroke="#333" strokeWidth={1.5} />
      {rows.map((row) => (
        <g key={row.label + row.y}>
          {row.kind === 'dot' && <circle cx={49} cy={row.y} r={6.5} fill={row.color} />}
          {row.kind === 'solid' && <line x1={7} x2={89} y1={row.y + 1} y2={row.y + 1} stroke={row.color} strokeWidth={2} />}
          {row.kind === 'dash' && (
            <line x1={7} x2={89} y1={row.y + 1} y2={row.y + 1} stroke={row.color} strokeWidth={2} strokeDasharray="20 11" />
          )}
          <text x={97} y={row.y + 7.5} fontSize={21.5} fontFamily={FONT} fill={INK}>
            {row.sub ? (
              <>
                a<tspan dy={6} fontSize={14}>r</tspan>
                <tspan dy={-6}>{row.label}</tspan>
              </>
            ) : (
              row.label
            )}
          </text>
        </g>
      ))}
    </g>
  )
}

export default function App() {
  return (
    <div style={{ position: 'absolute', left: 0, top: 0, width: 1201, height: 936, background: '#fff', overflow: 'hidden' }}>
      <Panel top={0} core={otherCore1} other={other1} spicule={spicule1} socrates={socrates1} orcas={orcas1}
        cset={cset1} mean={mean1} meanTail={meanTail1} />
      <Panel top={474} core={otherCore2} other={other2} spicule={spicule2} socrates={socrates2} orcas={orcas2}
        cset={cset2} mean={mean2} meanTail={meanTail2} withRaf />
      <svg width={1201} height={936} style={{ position: 'absolute', left: 0, top: 0, pointerEvents: 'none' }}>
        <text x={653} y={31} textAnchor="middle" fontSize={27.5} fontWeight="bold" fontFamily={FONT} fill="#111">
          Harco Derived Recovery Factors
        </text>
        <text x={651} y={462} textAnchor="middle" fontSize={28} fontFamily={FONT} fill={INK}>Mach</text>
        <text x={651} y={931} textAnchor="middle" fontSize={28} fontFamily={FONT} fill={INK}>Mach</text>
        <text transform="translate(34,213) rotate(-90)" textAnchor="middle" fontSize={28} fontFamily={FONT} fill={INK}>
          Recovery Factor, Element#1
        </text>
        <text transform="translate(34,689) rotate(-90)" textAnchor="middle" fontSize={28} fontFamily={FONT} fill={INK}>
          Recovery Factor, Element#2
        </text>
        <LegendBox x={131} y={63} w={283} h={309} rows={legendRows1} />
        <LegendBox x={131} y={538} w={283} h={346} rows={legendRows2} />
      </svg>
    </div>
  )
}
